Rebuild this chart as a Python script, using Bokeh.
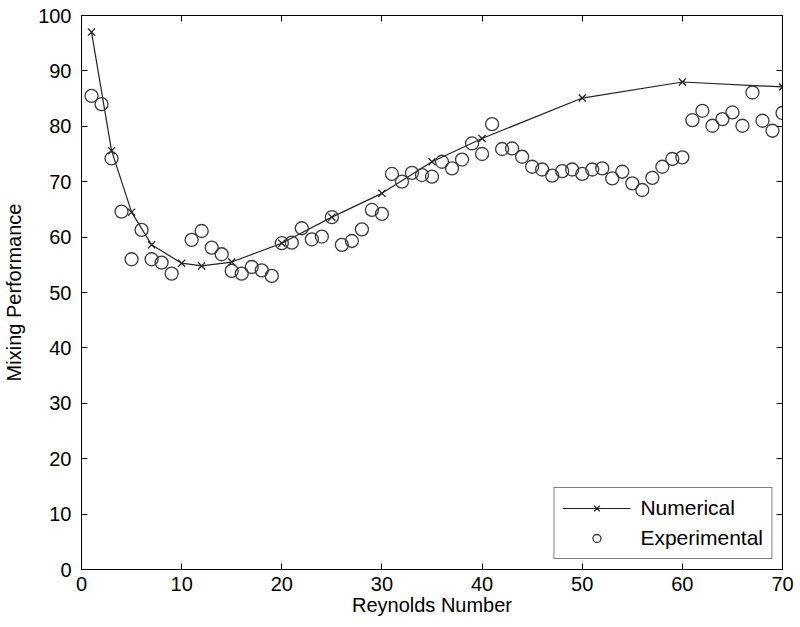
from bokeh.plotting import figure
from bokeh.models import LinearAxis, Range1d, SingleIntervalTicker, Legend, LegendItem
from bokeh.embed import file_html
from bokeh.resources import INLINE

num_re = [1, 3, 5, 7, 10, 12, 15, 20, 25, 30, 35, 40, 50, 60, 70]
num_perf = [97.0, 75.6, 64.5, 58.6, 55.3, 54.8, 55.5, 58.9, 63.6, 67.9, 73.6, 77.8, 85.1, 88.0, 87.1]

exp_re = [1, 2, 3, 4, 5, 6, 7, 8, 9] + list(range(11, 71))
exp_perf = [85.5, 84.0, 74.2, 64.6, 56.0, 61.3, 56.0, 55.4, 53.4,
            59.5, 61.1, 58.1, 56.9, 53.9, 53.4, 54.6, 54.0, 53.0, 58.9,
            59.0, 61.6, 59.6, 60.1, 63.6, 58.6, 59.3, 61.4, 64.9, 64.2,
            71.4, 70.0, 71.6, 71.2, 70.9, 73.6, 72.4, 74.0, 76.9, 75.0,
            80.4, 75.9, 76.0, 74.5, 72.7, 72.2, 71.1, 71.9, 72.2, 71.4,
            72.2, 72.4, 70.6, 71.8, 69.7, 68.5, 70.7, 72.7, 74.1, 74.4,
            81.1, 82.8, 80.1, 81.3, 82.5, 80.1, 86.1, 81.0, 79.2, 82.4]

FONT = "Liberation Sans"

p = figure(width=798, height=622, output_backend="svg", toolbar_location=None,
           x_range=Range1d(0, 70), y_range=Range1d(0, 100),
           min_border_left=79, min_border_right=16, min_border_top=15, min_border_bottom=53)
p.xgrid.visible = False
p.ygrid.visible = False
p.outline_line_color = "black"
p.outline_line_width = 1
p.background_fill_color = "white"
p.border_fill_color = "white"

for ax in p.xaxis + p.yaxis:
    ax.major_tick_in = 6
    ax.major_tick_out = 0
    ax.minor_tick_line_color = None
    ax.axis_line_color = "black"
    ax.major_tick_line_color = "black"
    ax.major_label_text_font = FONT
    ax.major_label_text_font_size = "20px"
    ax.major_label_text_color = "black"
    ax.axis_label_text_font = FONT
    ax.axis_label_text_font_size = "20px"
    ax.axis_label_text_font_style = "normal"
    ax.axis_label_text_color = "black"

p.xaxis.ticker = SingleIntervalTicker(interval=10)
p.yaxis.ticker = SingleIntervalTicker(interval=10)
p.xaxis.axis_label = "Reynolds Number"
p.yaxis.axis_label = "Mixing Performance"
p.xaxis.major_label_standoff = 3
p.yaxis.major_label_standoff = 6
p.xaxis.axis_label_standoff = 0
p.yaxis.axis_label_standoff = 10

for loc in ("right", "above"):
    ax = LinearAxis(ticker=SingleIntervalTicker(interval=10))
    ax.major_tick_in = 6
    ax.major_tick_out = 0
    ax.minor_tick_line_color = None
    ax.major_label_text_font_size = "1px"
    ax.major_label_text_color = None
    ax.major_label_standoff = 0
    ax.axis_line_color = "black"
    p.add_layout(ax, loc)

ln = p.line(num_re, num_perf, line_color="#222222", line_width=1.2)
mk = p.scatter(num_re, num_perf, marker="x", size=10, line_color="#222222", line_width=1.3)
ci = p.scatter(exp_re, exp_perf, marker="circle", size=13, fill_color=None,
               line_color="#3a3a3a", line_width=1.3)

legend = Legend(items=[LegendItem(label="Numerical", renderers=[ln, mk]),
                       LegendItem(label="Experimental", renderers=[ci])],
                location="bottom_right")
legend.label_text_font = FONT
legend.label_text_font_size = "21px"
legend.label_text_color = "black"
legend.glyph_width = 68
legend.glyph_height = 20
legend.label_height = 20
legend.label_standoff = 10
legend.spacing = 6
legend.padding = 8
legend.margin = 10
legend.border_line_color = "black"
legend.border_line_width = 1
legend.background_fill_alpha = 1.0
p.add_layout(legend, "center")

open("out.html", "w").write(file_html(p, INLINE))
